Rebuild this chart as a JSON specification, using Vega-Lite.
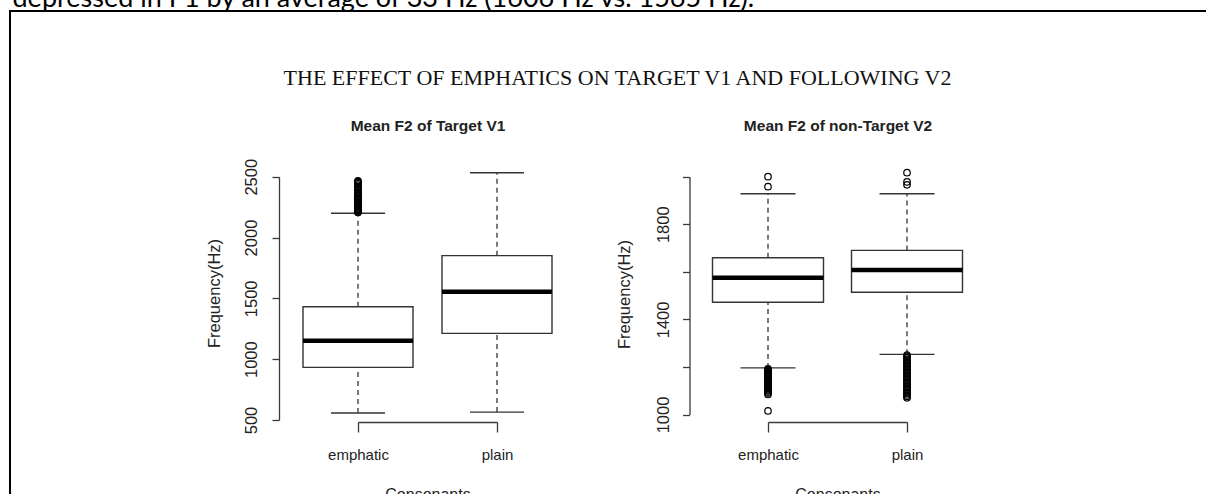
{
  "$schema": "https://vega.github.io/schema/vega-lite/v6.json",
  "width": 1200,
  "height": 490,
  "autosize": {"type": "none"},
  "padding": {"left": 10, "top": 11, "right": 0, "bottom": 0},
  "background": "white",
  "config": {
    "view": {"stroke": "black", "strokeWidth": 2, "fill": "white"},
    "axis": {
      "grid": false,
      "labelFont": "Liberation Sans",
      "titleFont": "Liberation Sans",
      "labelColor": "#222222",
      "titleColor": "#222222",
      "domainColor": "#3a3a3a",
      "tickColor": "#3a3a3a",
      "domainWidth": 1.3,
      "tickWidth": 1.3,
      "titleFontWeight": "normal",
      "labelFontSize": 16,
      "titleFontSize": 16,
      "titleLimit": 3000,
      "labelLimit": 500
    }
  },
  "datasets": {
    "stats": [
      {"panel": "V1", "cons": "emphatic", "lo": 558, "q1": 933, "med": 1152, "q3": 1431, "hi": 2199},
      {"panel": "V1", "cons": "plain", "lo": 565, "q1": 1212, "med": 1555, "q3": 1851, "hi": 2533},
      {"panel": "V2", "cons": "emphatic", "lo": 1196, "q1": 1472, "med": 1575, "q3": 1659, "hi": 1928},
      {"panel": "V2", "cons": "plain", "lo": 1253, "q1": 1514, "med": 1608, "q3": 1690, "hi": 1928}
    ],
    "outliers": [
      {"panel": "V1", "cons": "emphatic", "v": 2206}, {"panel": "V1", "cons": "emphatic", "v": 2212},
      {"panel": "V1", "cons": "emphatic", "v": 2218}, {"panel": "V1", "cons": "emphatic", "v": 2224},
      {"panel": "V1", "cons": "emphatic", "v": 2231}, {"panel": "V1", "cons": "emphatic", "v": 2238},
      {"panel": "V1", "cons": "emphatic", "v": 2245}, {"panel": "V1", "cons": "emphatic", "v": 2252},
      {"panel": "V1", "cons": "emphatic", "v": 2260}, {"panel": "V1", "cons": "emphatic", "v": 2268},
      {"panel": "V1", "cons": "emphatic", "v": 2276}, {"panel": "V1", "cons": "emphatic", "v": 2284},
      {"panel": "V1", "cons": "emphatic", "v": 2293}, {"panel": "V1", "cons": "emphatic", "v": 2302},
      {"panel": "V1", "cons": "emphatic", "v": 2311}, {"panel": "V1", "cons": "emphatic", "v": 2320},
      {"panel": "V1", "cons": "emphatic", "v": 2330}, {"panel": "V1", "cons": "emphatic", "v": 2340},
      {"panel": "V1", "cons": "emphatic", "v": 2350}, {"panel": "V1", "cons": "emphatic", "v": 2361},
      {"panel": "V1", "cons": "emphatic", "v": 2372}, {"panel": "V1", "cons": "emphatic", "v": 2383},
      {"panel": "V1", "cons": "emphatic", "v": 2395}, {"panel": "V1", "cons": "emphatic", "v": 2407},
      {"panel": "V1", "cons": "emphatic", "v": 2419}, {"panel": "V1", "cons": "emphatic", "v": 2431},
      {"panel": "V1", "cons": "emphatic", "v": 2442}, {"panel": "V1", "cons": "emphatic", "v": 2452},
      {"panel": "V1", "cons": "emphatic", "v": 2460}, {"panel": "V1", "cons": "emphatic", "v": 2466},
      {"panel": "V2", "cons": "emphatic", "v": 2000}, {"panel": "V2", "cons": "emphatic", "v": 1958},
      {"panel": "V2", "cons": "emphatic", "v": 1192}, {"panel": "V2", "cons": "emphatic", "v": 1188},
      {"panel": "V2", "cons": "emphatic", "v": 1184}, {"panel": "V2", "cons": "emphatic", "v": 1180},
      {"panel": "V2", "cons": "emphatic", "v": 1176}, {"panel": "V2", "cons": "emphatic", "v": 1172},
      {"panel": "V2", "cons": "emphatic", "v": 1168}, {"panel": "V2", "cons": "emphatic", "v": 1164},
      {"panel": "V2", "cons": "emphatic", "v": 1160}, {"panel": "V2", "cons": "emphatic", "v": 1156},
      {"panel": "V2", "cons": "emphatic", "v": 1152}, {"panel": "V2", "cons": "emphatic", "v": 1148},
      {"panel": "V2", "cons": "emphatic", "v": 1144}, {"panel": "V2", "cons": "emphatic", "v": 1140},
      {"panel": "V2", "cons": "emphatic", "v": 1136}, {"panel": "V2", "cons": "emphatic", "v": 1132},
      {"panel": "V2", "cons": "emphatic", "v": 1128}, {"panel": "V2", "cons": "emphatic", "v": 1124},
      {"panel": "V2", "cons": "emphatic", "v": 1120}, {"panel": "V2", "cons": "emphatic", "v": 1116},
      {"panel": "V2", "cons": "emphatic", "v": 1112}, {"panel": "V2", "cons": "emphatic", "v": 1108},
      {"panel": "V2", "cons": "emphatic", "v": 1104}, {"panel": "V2", "cons": "emphatic", "v": 1100},
      {"panel": "V2", "cons": "emphatic", "v": 1095}, {"panel": "V2", "cons": "emphatic", "v": 1090},
      {"panel": "V2", "cons": "emphatic", "v": 1084}, {"panel": "V2", "cons": "emphatic", "v": 1015},
      {"panel": "V2", "cons": "plain", "v": 2017}, {"panel": "V2", "cons": "plain", "v": 1978},
      {"panel": "V2", "cons": "plain", "v": 1966},
      {"panel": "V2", "cons": "plain", "v": 1250}, {"panel": "V2", "cons": "plain", "v": 1244},
      {"panel": "V2", "cons": "plain", "v": 1238}, {"panel": "V2", "cons": "plain", "v": 1232},
      {"panel": "V2", "cons": "plain", "v": 1226}, {"panel": "V2", "cons": "plain", "v": 1220},
      {"panel": "V2", "cons": "plain", "v": 1214}, {"panel": "V2", "cons": "plain", "v": 1208},
      {"panel": "V2", "cons": "plain", "v": 1202}, {"panel": "V2", "cons": "plain", "v": 1196},
      {"panel": "V2", "cons": "plain", "v": 1190}, {"panel": "V2", "cons": "plain", "v": 1184},
      {"panel": "V2", "cons": "plain", "v": 1178}, {"panel": "V2", "cons": "plain", "v": 1172},
      {"panel": "V2", "cons": "plain", "v": 1166}, {"panel": "V2", "cons": "plain", "v": 1160},
      {"panel": "V2", "cons": "plain", "v": 1154}, {"panel": "V2", "cons": "plain", "v": 1148},
      {"panel": "V2", "cons": "plain", "v": 1142}, {"panel": "V2", "cons": "plain", "v": 1136},
      {"panel": "V2", "cons": "plain", "v": 1130}, {"panel": "V2", "cons": "plain", "v": 1124},
      {"panel": "V2", "cons": "plain", "v": 1118}, {"panel": "V2", "cons": "plain", "v": 1112},
      {"panel": "V2", "cons": "plain", "v": 1106}, {"panel": "V2", "cons": "plain", "v": 1100},
      {"panel": "V2", "cons": "plain", "v": 1094}, {"panel": "V2", "cons": "plain", "v": 1088},
      {"panel": "V2", "cons": "plain", "v": 1082}, {"panel": "V2", "cons": "plain", "v": 1076},
      {"panel": "V2", "cons": "plain", "v": 1070}
    ]
  },
  "layer": [
    {
      "layer": [
        {
          "data": {"name": "stats"},
          "transform": [{"filter": "datum.panel === 'V1'"}],
          "mark": {"type": "rule", "color": "#333333", "strokeWidth": 1.3, "strokeDash": [5, 4]},
          "encoding": {
            "x": {"field": "cons", "type": "nominal", "scale": {"type": "point", "domain": ["emphatic", "plain"], "range": [348, 487], "padding": 0},
                  "axis": {"orient": "top", "domain": false, "ticks": false, "labels": false, "title": "depressed in F1 by an average of 33 Hz (1606 Hz vs. 1565 Hz).", "titleFont": "Lato", "titleFontSize": 27, "titleColor": "black", "titleAlign": "left", "titleBaseline": "alphabetic", "titleX": 2, "titleY": -5}},
            "y": {"field": "q3", "type": "quantitative", "scale": {"domain": [500, 2500], "range": [409, 165.7], "nice": false, "zero": false}, "axis": null},
            "y2": {"field": "hi"}
          }
        },
        {
          "data": {"name": "stats"},
          "transform": [{"filter": "datum.panel === 'V1'"}],
          "mark": {"type": "rule", "color": "#333333", "strokeWidth": 1.3, "strokeDash": [5, 4]},
          "encoding": {
            "x": {"field": "cons", "type": "nominal", "scale": {"type": "point", "domain": ["emphatic", "plain"], "range": [348, 487], "padding": 0}, "axis": null},
            "y": {"field": "lo", "type": "quantitative", "scale": {"domain": [500, 2500], "range": [409, 165.7], "nice": false, "zero": false}, "axis": null},
            "y2": {"field": "q1"}
          }
        },
        {
          "data": {"name": "stats"},
          "transform": [{"filter": "datum.panel === 'V1'"}],
          "mark": {"type": "bar", "size": 110, "fill": "white", "stroke": "#333333", "strokeWidth": 1.4},
          "encoding": {
            "x": {"field": "cons", "type": "nominal", "scale": {"type": "point", "domain": ["emphatic", "plain"], "range": [348, 487], "padding": 0},
                  "axis": {"orient": "bottom", "offset": -79, "tickSize": 10, "labelPadding": 27, "labelBaseline": "alphabetic", "labelAngle": 0, "labelFontSize": 15, "title": "Consonants", "titleBaseline": "alphabetic", "titleY": 77, "titleFontSize": 16}},
            "y": {"field": "q1", "type": "quantitative", "scale": {"domain": [500, 2500], "range": [409, 165.7], "nice": false, "zero": false},
                  "axis": {"orient": "left", "offset": -269, "values": [500, 1000, 1500, 2000, 2500], "format": "d", "tickSize": 7, "labelAngle": 270, "labelAlign": "center", "labelBaseline": "alphabetic", "labelPadding": 16, "labelFontSize": 16.5, "labelOverlap": false, "title": "Frequency(Hz)", "titleAngle": 270, "titleAlign": "center", "titleBaseline": "alphabetic", "titleX": -60, "titleY": 282, "titleFontSize": 16.5}},
            "y2": {"field": "q3"}
          }
        },
        {
          "data": {"name": "stats"},
          "transform": [{"filter": "datum.panel === 'V1'"}],
          "mark": {"type": "tick", "size": 110, "thickness": 4.5, "color": "black", "opacity": 1},
          "encoding": {
            "x": {"field": "cons", "type": "nominal", "scale": {"type": "point", "domain": ["emphatic", "plain"], "range": [348, 487], "padding": 0},
                  "axis": {"orient": "top", "domain": false, "ticks": false, "labels": false, "title": "Mean F2 of Target V1", "titleFontWeight": "bold", "titleFontSize": 15.5, "titleBaseline": "alphabetic", "titleY": 119.5}},
            "y": {"field": "med", "type": "quantitative", "scale": {"domain": [500, 2500], "range": [409, 165.7], "nice": false, "zero": false}, "axis": null}
          }
        },
        {
          "data": {"name": "stats"},
          "transform": [{"filter": "datum.panel === 'V1'"}],
          "mark": {"type": "tick", "size": 54, "thickness": 1.4, "color": "#333333", "opacity": 1},
          "encoding": {
            "x": {"field": "cons", "type": "nominal", "scale": {"type": "point", "domain": ["emphatic", "plain"], "range": [348, 487], "padding": 0},
                  "axis": {"orient": "top", "domain": false, "ticks": false, "labels": false, "title": "THE EFFECT OF EMPHATICS ON TARGET V1 AND FOLLOWING V2", "titleFont": "Liberation Serif", "titleFontSize": 22, "titleColor": "#111111", "titleAlign": "center", "titleBaseline": "alphabetic", "titleX": 607, "titleY": 73.5}},
            "y": {"field": "hi", "type": "quantitative", "scale": {"domain": [500, 2500], "range": [409, 165.7], "nice": false, "zero": false}, "axis": null}
          }
        },
        {
          "data": {"name": "stats"},
          "transform": [{"filter": "datum.panel === 'V1'"}],
          "mark": {"type": "tick", "size": 54, "thickness": 1.4, "color": "#333333", "opacity": 1},
          "encoding": {
            "x": {"field": "cons", "type": "nominal", "scale": {"type": "point", "domain": ["emphatic", "plain"], "range": [348, 487], "padding": 0}, "axis": null},
            "y": {"field": "lo", "type": "quantitative", "scale": {"domain": [500, 2500], "range": [409, 165.7], "nice": false, "zero": false}, "axis": null}
          }
        },
        {
          "data": {"name": "outliers"},
          "transform": [{"filter": "datum.panel === 'V1'"}],
          "mark": {"type": "point", "shape": "circle", "filled": false, "stroke": "black", "strokeWidth": 1.2, "size": 42, "opacity": 1},
          "encoding": {
            "x": {"field": "cons", "type": "nominal", "scale": {"type": "point", "domain": ["emphatic", "plain"], "range": [348, 487], "padding": 0}, "axis": null},
            "y": {"field": "v", "type": "quantitative", "scale": {"domain": [500, 2500], "range": [409, 165.7], "nice": false, "zero": false}, "axis": null}
          }
        }
      ],
      "resolve": {"axis": {"x": "independent", "y": "independent"}}
    },
    {
      "layer": [
        {
          "data": {"name": "stats"},
          "transform": [{"filter": "datum.panel === 'V2'"}],
          "mark": {"type": "rule", "color": "#333333", "strokeWidth": 1.3, "strokeDash": [5, 4]},
          "encoding": {
            "x": {"field": "cons", "type": "nominal", "scale": {"type": "point", "domain": ["emphatic", "plain"], "range": [758, 897], "padding": 0}, "axis": null},
            "y": {"field": "q3", "type": "quantitative", "scale": {"domain": [1000, 2000], "range": [403.5, 165.7], "nice": false, "zero": false}, "axis": null},
            "y2": {"field": "hi"}
          }
        },
        {
          "data": {"name": "stats"},
          "transform": [{"filter": "datum.panel === 'V2'"}],
          "mark": {"type": "rule", "color": "#333333", "strokeWidth": 1.3, "strokeDash": [5, 4]},
          "encoding": {
            "x": {"field": "cons", "type": "nominal", "scale": {"type": "point", "domain": ["emphatic", "plain"], "range": [758, 897], "padding": 0}, "axis": null},
            "y": {"field": "lo", "type": "quantitative", "scale": {"domain": [1000, 2000], "range": [403.5, 165.7], "nice": false, "zero": false}, "axis": null},
            "y2": {"field": "q1"}
          }
        },
        {
          "data": {"name": "stats"},
          "transform": [{"filter": "datum.panel === 'V2'"}],
          "mark": {"type": "bar", "size": 111, "fill": "white", "stroke": "#333333", "strokeWidth": 1.4},
          "encoding": {
            "x": {"field": "cons", "type": "nominal", "scale": {"type": "point", "domain": ["emphatic", "plain"], "range": [758, 897], "padding": 0},
                  "axis": {"orient": "bottom", "offset": -79, "tickSize": 10, "labelPadding": 27, "labelBaseline": "alphabetic", "labelAngle": 0, "labelFontSize": 15, "title": "Consonants", "titleBaseline": "alphabetic", "titleY": 77, "titleFontSize": 16}},
            "y": {"field": "q1", "type": "quantitative", "scale": {"domain": [1000, 2000], "range": [403.5, 165.7], "nice": false, "zero": false},
                  "axis": {"orient": "left", "offset": -679.5, "values": [1000, 1200, 1400, 1600, 1800, 2000], "format": "d", "labelExpr": "datum.value % 400 == 200 ? datum.label : ''", "tickSize": 7, "labelAngle": 270, "labelAlign": "center", "labelBaseline": "alphabetic", "labelPadding": 14, "labelFontSize": 16.5, "labelOverlap": false, "title": "Frequency(Hz)", "titleAngle": 270, "titleAlign": "center", "titleBaseline": "alphabetic", "titleX": -60, "titleY": 283, "titleFontSize": 16.5}},
            "y2": {"field": "q3"}
          }
        },
        {
          "data": {"name": "stats"},
          "transform": [{"filter": "datum.panel === 'V2'"}],
          "mark": {"type": "tick", "size": 111, "thickness": 4.5, "color": "black", "opacity": 1},
          "encoding": {
            "x": {"field": "cons", "type": "nominal", "scale": {"type": "point", "domain": ["emphatic", "plain"], "range": [758, 897], "padding": 0},
                  "axis": {"orient": "top", "domain": false, "ticks": false, "labels": false, "title": "Mean F2 of non-Target V2", "titleFontWeight": "bold", "titleFontSize": 15.5, "titleBaseline": "alphabetic", "titleY": 119.5}},
            "y": {"field": "med", "type": "quantitative", "scale": {"domain": [1000, 2000], "range": [403.5, 165.7], "nice": false, "zero": false}, "axis": null}
          }
        },
        {
          "data": {"name": "stats"},
          "transform": [{"filter": "datum.panel === 'V2'"}],
          "mark": {"type": "tick", "size": 55, "thickness": 1.4, "color": "#333333", "opacity": 1},
          "encoding": {
            "x": {"field": "cons", "type": "nominal", "scale": {"type": "point", "domain": ["emphatic", "plain"], "range": [758, 897], "padding": 0}, "axis": null},
            "y": {"field": "hi", "type": "quantitative", "scale": {"domain": [1000, 2000], "range": [403.5, 165.7], "nice": false, "zero": false}, "axis": null}
          }
        },
        {
          "data": {"name": "stats"},
          "transform": [{"filter": "datum.panel === 'V2'"}],
          "mark": {"type": "tick", "size": 55, "thickness": 1.4, "color": "#333333", "opacity": 1},
          "encoding": {
            "x": {"field": "cons", "type": "nominal", "scale": {"type": "point", "domain": ["emphatic", "plain"], "range": [758, 897], "padding": 0}, "axis": null},
            "y": {"field": "lo", "type": "quantitative", "scale": {"domain": [1000, 2000], "range": [403.5, 165.7], "nice": false, "zero": false}, "axis": null}
          }
        },
        {
          "data": {"name": "outliers"},
          "transform": [{"filter": "datum.panel === 'V2'"}],
          "mark": {"type": "point", "shape": "circle", "filled": false, "stroke": "black", "strokeWidth": 1.2, "size": 42, "opacity": 1},
          "encoding": {
            "x": {"field": "cons", "type": "nominal", "scale": {"type": "point", "domain": ["emphatic", "plain"], "range": [758, 897], "padding": 0}, "axis": null},
            "y": {"field": "v", "type": "quantitative", "scale": {"domain": [1000, 2000], "range": [403.5, 165.7], "nice": false, "zero": false}, "axis": null}
          }
        }
      ],
      "resolve": {"axis": {"x": "independent", "y": "independent"}}
    }
  ],
  "resolve": {
    "scale": {"x": "independent", "y": "independent"},
    "axis": {"x": "independent", "y": "independent"}
  }
}
